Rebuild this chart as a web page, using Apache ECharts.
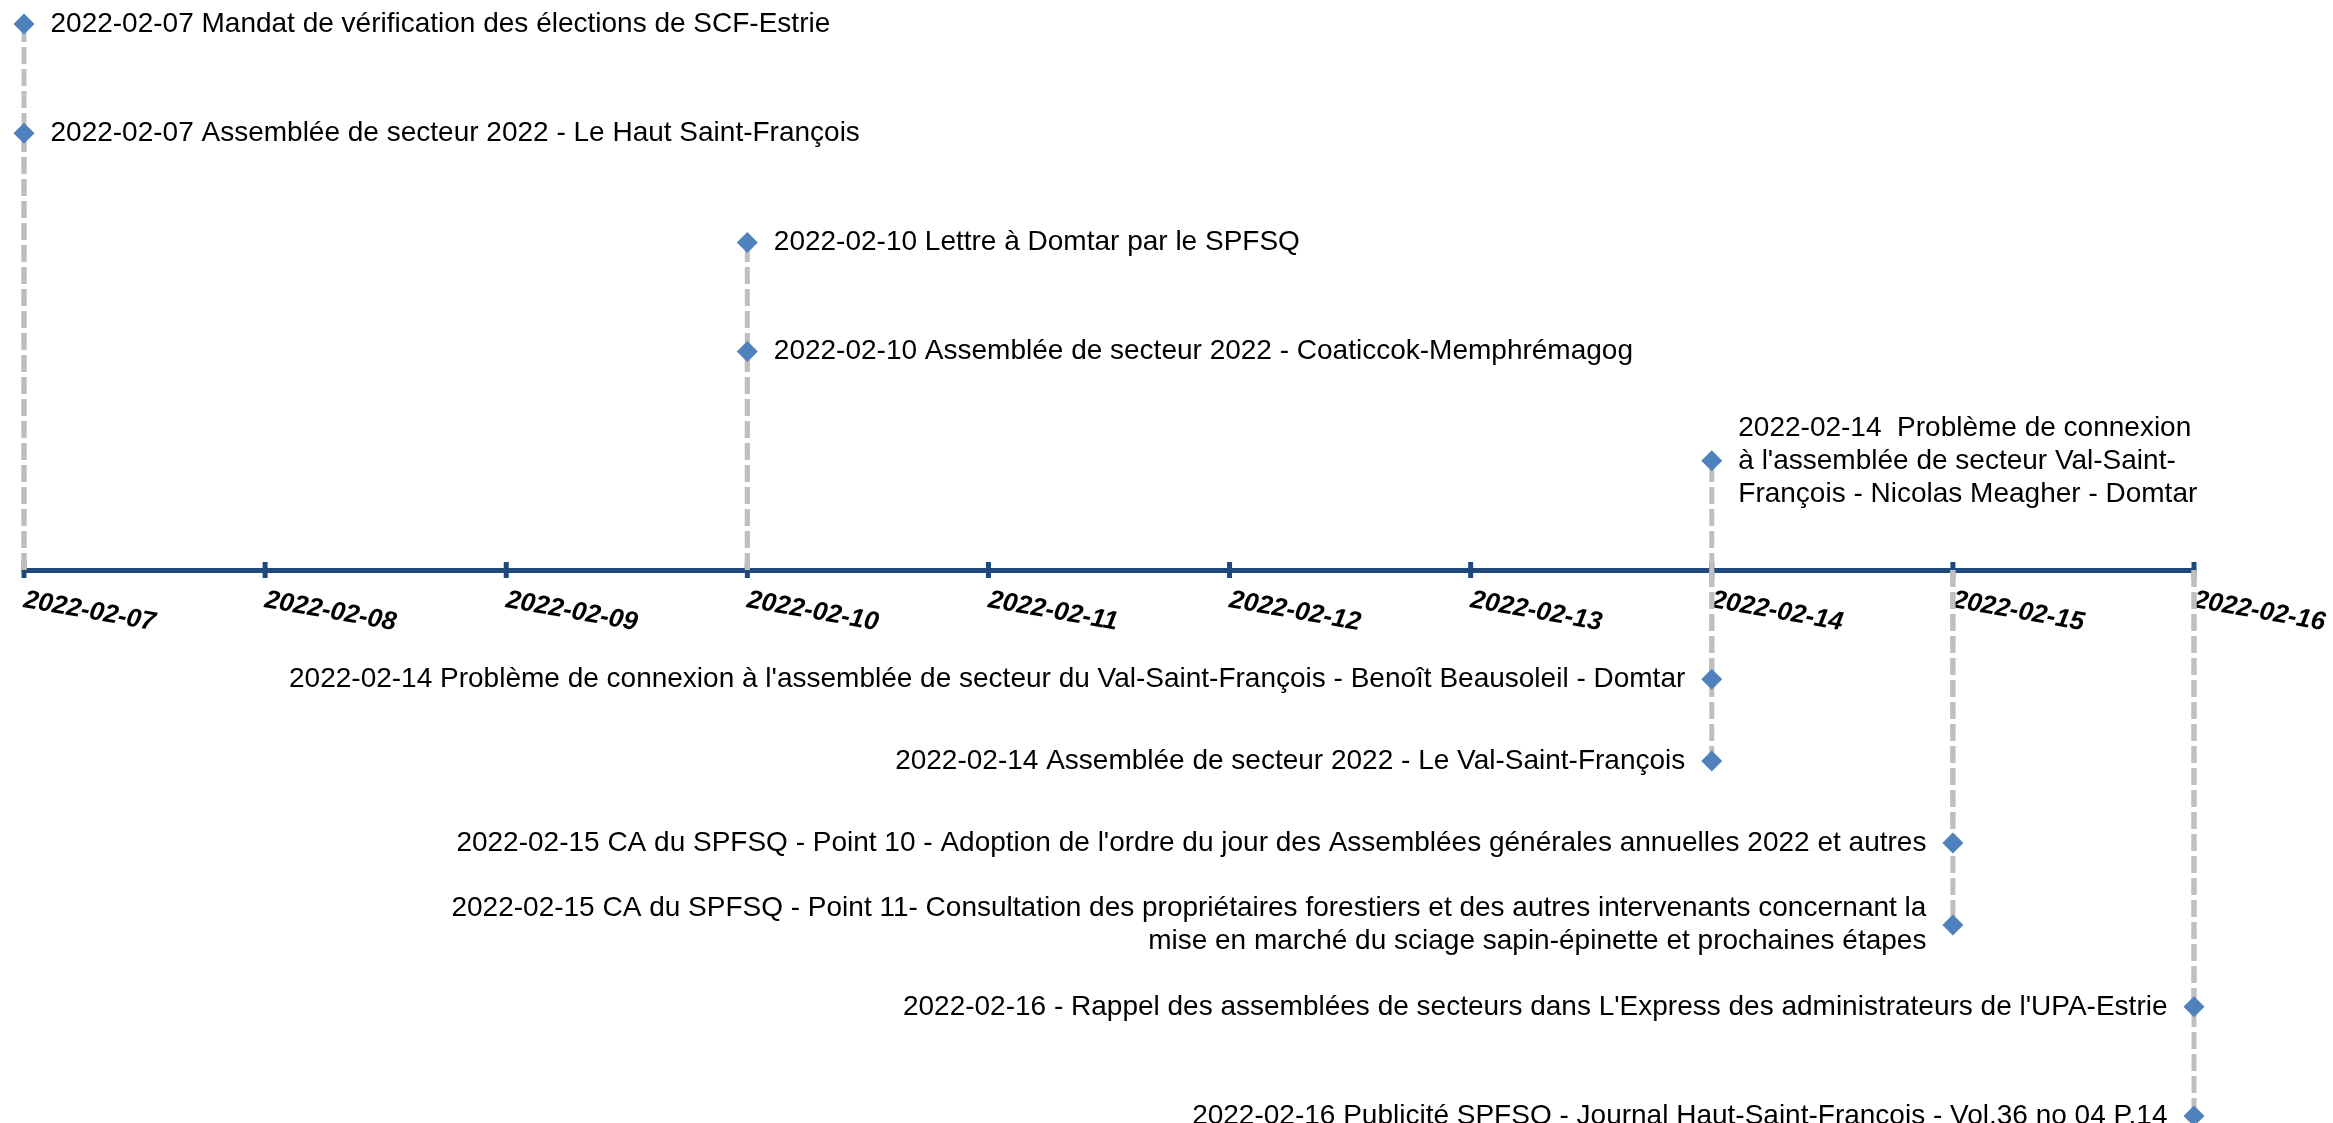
<!DOCTYPE html>
<html>
<head>
<meta charset="utf-8">
<title>Chronologie</title>
<script src="https://cdn.jsdelivr.net/npm/echarts@6/dist/echarts.min.js"></script>
<style>
  html, body { margin: 0; padding: 0; background: #fff; }
  #chart { width: 2333px; height: 1123px; }
</style>
</head>
<body>
<div id="chart"></div>
<script>
// jours de l'axe
const days = ['2022-02-07', '2022-02-08', '2022-02-09', '2022-02-10', '2022-02-11',
  '2022-02-12', '2022-02-13', '2022-02-14', '2022-02-15', '2022-02-16'];

// événements : date, hauteur (au-dessus / au-dessous de l'axe), texte
const eventDays = ['2022-02-07', '2022-02-07', '2022-02-10', '2022-02-10', '2022-02-14',
  '2022-02-14', '2022-02-14', '2022-02-15', '2022-02-15', '2022-02-16', '2022-02-16'];
const eventLevels = [5, 4, 3, 2, 1, -1, -1.75, -2.5, -3.25, -4, -5];
const eventTexts = [
  '2022-02-07 Mandat de vérification des élections de SCF-Estrie',
  '2022-02-07 Assemblée de secteur 2022 - Le Haut Saint-François',
  '2022-02-10 Lettre à Domtar par le SPFSQ',
  '2022-02-10 Assemblée de secteur 2022 - Coaticcok-Memphrémagog',
  "2022-02-14  Problème de connexion\nà l'assemblée de secteur Val-Saint-\nFrançois - Nicolas Meagher - Domtar",
  "2022-02-14 Problème de connexion à l'assemblée de secteur du Val-Saint-François - Benoît Beausoleil - Domtar",
  '2022-02-14 Assemblée de secteur 2022 - Le Val-Saint-François',
  "2022-02-15 CA du SPFSQ - Point 10 - Adoption de l'ordre du jour des Assemblées générales annuelles 2022 et autres",
  '2022-02-15 CA du SPFSQ - Point 11- Consultation des propriétaires forestiers et des autres intervenants concernant la\nmise en marché du sciage sapin-épinette et prochaines étapes',
  "2022-02-16 - Rappel des assemblées de secteurs dans L'Express des administrateurs de l'UPA-Estrie",
  '2022-02-16 Publicité SPFSQ - Journal Haut-Saint-François - Vol.36 no 04 P.14'
];

const chart = echarts.init(document.getElementById('chart'));

const axisColor = '#1F497D';
const font = "'Liberation Sans', Arial, sans-serif";

const points = eventDays.map((d, i) => ({
  value: [d, eventLevels[i]],
  label: {
    formatter: eventTexts[i],
    position: eventLevels[i] > 0 ? 'right' : 'left'
  }
}));

const option = {
  animation: false,
  backgroundColor: '#fff',
  // l'axe des dates est en bas de la grille ; les événements négatifs sont dessinés sous la grille
  grid: { left: 24, right: 139, top: 0, bottom: 553, outerBoundsMode: 'none', containLabel: false },
  xAxis: {
    type: 'category',
    data: days,
    boundaryGap: false,
    position: 'bottom',
    axisLine: { onZero: false, lineStyle: { color: axisColor, width: 5 } },
    axisTick: { show: false },
    axisLabel: {
      show: true,
      interval: 0,
      rotate: -10,
      margin: 30,
      color: '#000',
      fontFamily: font,
      fontSize: 26,
      fontWeight: 'bold',
      fontStyle: 'italic'
    },
    splitLine: { show: false }
  },
  yAxis: { type: 'value', min: 0, max: 5.22, show: false },
  series: [
    {
      // graduations qui traversent la ligne de l'axe
      type: 'custom',
      data: days.map(d => [d, 0]),
      renderItem: (params, api) => {
        const c = api.coord([api.value(0), 0]);
        return {
          type: 'line',
          shape: { x1: c[0], y1: c[1] - 8, x2: c[0], y2: c[1] + 8 },
          style: { stroke: axisColor, lineWidth: 5 }
        };
      },
      silent: true,
      z: 2
    },
    {
      // lignes pointillées de l'événement vers l'axe
      type: 'custom',
      clip: false,
      data: eventDays.map((d, i) => [d, eventLevels[i]]),
      renderItem: (params, api) => {
        const p = api.coord([api.value(0), api.value(1)]);
        const base = api.coord([api.value(0), 0]);
        return {
          type: 'line',
          shape: { x1: base[0], y1: base[1], x2: p[0], y2: p[1] },
          style: { stroke: '#BFBFBF', lineWidth: 5, lineDash: [17, 5] }
        };
      },
      z: 3
    },
    {
      type: 'scatter',
      symbol: 'diamond',
      symbolSize: 21,
      clip: false,
      itemStyle: { color: '#4F81BD', opacity: 1 },
      label: {
        show: true,
        distance: 16,
        color: '#000',
        fontFamily: font,
        fontSize: 28,
        lineHeight: 33
      },
      data: points,
      z: 4
    }
  ]
};

chart.setOption(option);
window.addEventListener('resize', () => chart.resize());
</script>
</body>
</html>
